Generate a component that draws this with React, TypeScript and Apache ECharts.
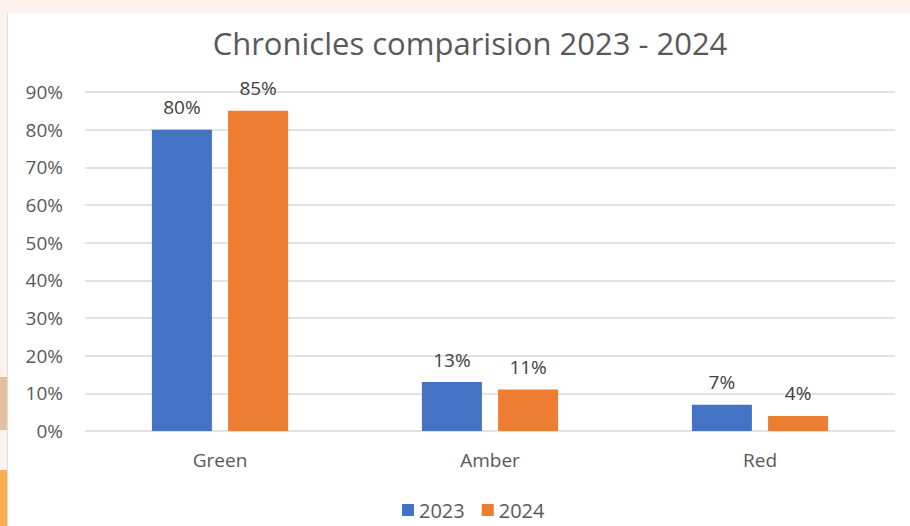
import React, { useEffect, useRef } from "react";
import * as echarts from "echarts";

const categories = ["Green", "Amber", "Red"];
const series2023 = [80, 13, 7];
const series2024 = [85, 11, 4];
const seriesNames = ["2023", "2024"];
const titleText = "Chronicles comparision 2023 - 2024";

const FONT = "'Open Sans', 'Noto Sans', sans-serif";

export default function App() {
  const ref = useRef<HTMLDivElement>(null);
  useEffect(() => {
    if (!ref.current) return;
    const chart = echarts.init(ref.current, null, { renderer: "svg" });
    const labelStyle = {
      show: true,
      position: "top" as const,
      distance: 13,
      formatter: (p: any) => p.value + "%",
      color: "#404040",
      fontSize: 19,
      fontFamily: FONT,
    };
    chart.setOption({
      animation: false,
      backgroundColor: "#FDF3EC",
      graphic: [
        { type: "rect", shape: { x: 8, y: 13, width: 902, height: 513 }, style: { fill: "#ffffff" }, z: -10 },
        { type: "rect", shape: { x: 0, y: 377, width: 7, height: 53 }, style: { fill: "#E2C0A2" }, z: -10 },
        { type: "rect", shape: { x: 0, y: 470, width: 7, height: 56 }, style: { fill: "#FBAC4F" }, z: -10 },
        { type: "line", shape: { x1: 7.5, y1: 13, x2: 7.5, y2: 526 }, style: { stroke: "#E6DCD4", lineWidth: 1 }, z: -9 },
      ],
      title: {
        text: titleText,
        left: 465,
        textAlign: "center",
        top: 22,
        textStyle: { fontFamily: FONT, fontWeight: "normal", fontSize: 31, color: "#595959" },
      },
      legend: {
        bottom: 1,
        left: 397,
        itemWidth: 12,
        itemHeight: 12,
        itemGap: 17,
        icon: "rect",
        textStyle: { fontFamily: FONT, fontSize: 20, color: "#595959" },
        data: seriesNames,
      },
      grid: { left: 85, right: 15, top: 92, bottom: 95, containLabel: false },
      xAxis: {
        type: "category",
        data: categories,
        axisLine: { show: false },
        axisTick: { show: false },
        axisLabel: { fontFamily: FONT, fontSize: 19, color: "#595959", margin: 19 },
      },
      yAxis: {
        type: "value",
        min: 0,
        max: 90,
        interval: 10,
        axisLabel: { formatter: "{value}%", fontFamily: FONT, fontSize: 19, color: "#595959", margin: 22 },
        splitLine: { lineStyle: { color: "#D9D9D9", width: 1.5 } },
        axisLine: { show: false },
        axisTick: { show: false },
      },
      series: [
        {
          name: seriesNames[0],
          type: "bar",
          data: series2023,
          barWidth: 60,
          barGap: "27%",
          itemStyle: { color: "#4472C4" },
          label: labelStyle,
        },
        {
          name: seriesNames[1],
          type: "bar",
          data: series2024,
          barWidth: 60,
          barGap: "27%",
          itemStyle: { color: "#ED7D31" },
          label: labelStyle,
        },
      ],
    });
    return () => chart.dispose();
  }, []);
  return (
    <div
      ref={ref}
      style={{ position: "fixed", left: 0, top: 0, width: 910, height: 526 }}
    />
  );
}
